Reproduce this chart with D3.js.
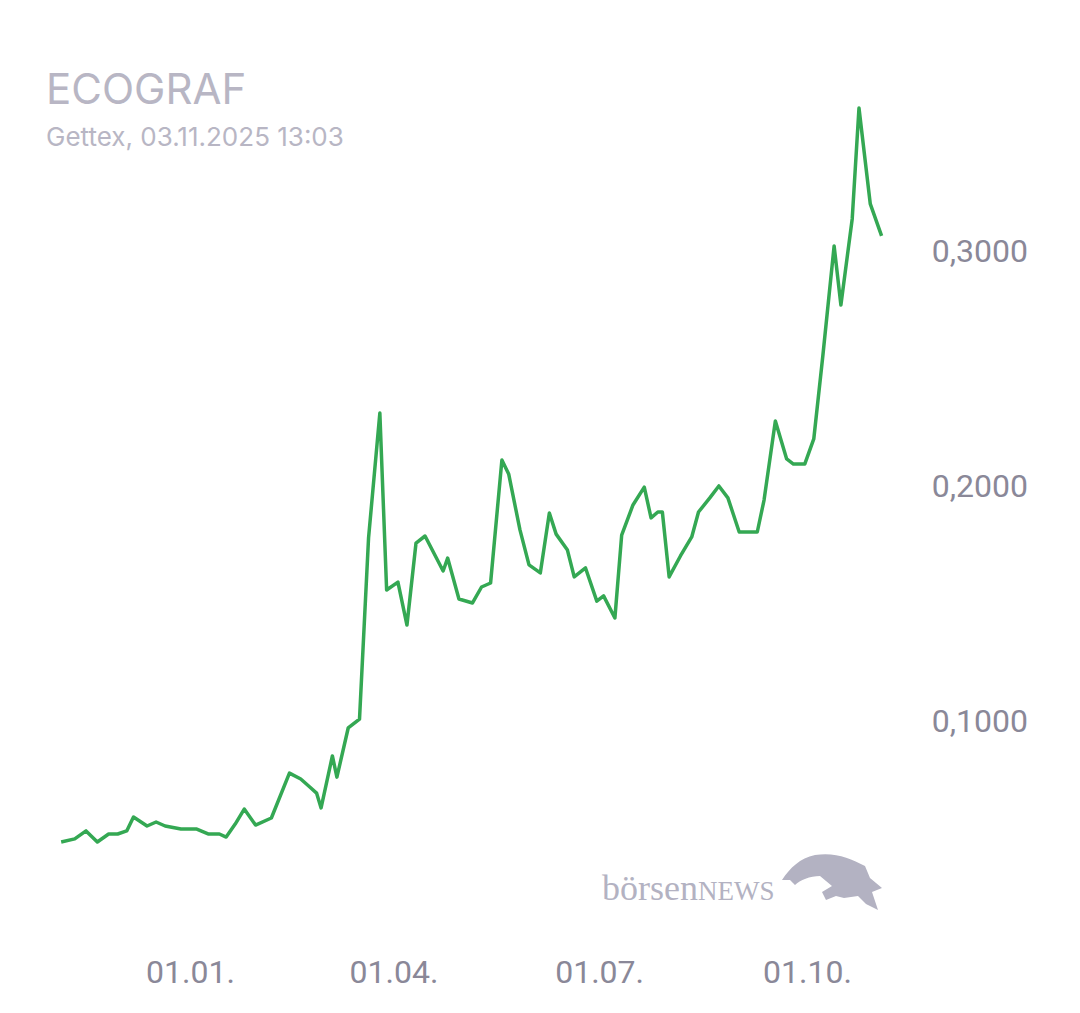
<!DOCTYPE html>
<html><head><meta charset="utf-8">
<script src="https://cdn.jsdelivr.net/npm/d3@7"></script>
<style>body{margin:0;background:#fff}</style></head>
<body><svg id="c" width="1080" height="1013"></svg>
<script>
const dates=["2024-11-05","2024-11-11","2024-11-16","2024-11-21","2024-11-26","2024-11-30","2024-12-04","2024-12-07","2024-12-13","2024-12-17","2024-12-21","2024-12-28","2025-01-04","2025-01-09","2025-01-14","2025-01-17","2025-01-21","2025-01-25","2025-01-30","2025-02-06","2025-02-14","2025-02-19","2025-02-23","2025-02-26","2025-02-28","2025-03-05","2025-03-07","2025-03-12","2025-03-17","2025-03-21","2025-03-26","2025-03-29","2025-04-03","2025-04-07","2025-04-11","2025-04-15","2025-04-23","2025-04-25","2025-04-30","2025-05-06","2025-05-10","2025-05-14","2025-05-19","2025-05-22","2025-05-27","2025-05-31","2025-06-05","2025-06-09","2025-06-12","2025-06-17","2025-06-20","2025-06-25","2025-06-30","2025-07-03","2025-07-08","2025-07-11","2025-07-16","2025-07-21","2025-07-24","2025-07-27","2025-07-29","2025-08-01","2025-08-06","2025-08-11","2025-08-14","2025-08-19","2025-08-23","2025-08-27","2025-09-01","2025-09-09","2025-09-12","2025-09-17","2025-09-22","2025-09-25","2025-09-30","2025-10-04","2025-10-08","2025-10-13","2025-10-16","2025-10-21","2025-10-24","2025-10-29","2025-11-03"];
const prices=[0.0481,0.0494,0.0528,0.0481,0.0515,0.0515,0.0528,0.0587,0.0549,0.0566,0.0549,0.0536,0.0536,0.0515,0.0515,0.0502,0.0557,0.0621,0.0553,0.0583,0.0774,0.0749,0.0715,0.0689,0.0626,0.0847,0.0757,0.0966,0.1004,0.1774,0.2306,0.1553,0.1587,0.1404,0.1753,0.1783,0.1634,0.1689,0.1515,0.1498,0.1566,0.1583,0.2106,0.2047,0.1809,0.1660,0.1626,0.1881,0.1791,0.1723,0.1609,0.1647,0.1506,0.1528,0.1434,0.1787,0.1915,0.1991,0.1860,0.1885,0.1885,0.1609,0.1698,0.1779,0.1885,0.1945,0.1996,0.1945,0.1800,0.1800,0.1936,0.2272,0.2111,0.2089,0.2089,0.2196,0.2549,0.3017,0.2766,0.3132,0.3604,0.3196,0.3060];
const yTicks=[0.1,0.2,0.3];
const xTicks=["2025-01-01","2025-04-01","2025-07-01","2025-10-01"];
const title="ECOGRAF", subtitle="Gettex, 03.11.2025 13:03";

const svg=d3.select("#c");
const p=d3.timeParse("%Y-%m-%d");
const data=dates.map((d,i)=>({d:p(d),v:prices[i]}));
const x=d3.scaleTime().domain([p("2025-01-01"),p("2025-10-01")]).range([190,807]);
const y=d3.scaleLinear().domain([0,0.3]).range([955,250]);
const fmt=v=>d3.format(".4f")(v).replace(".",",");
const xf=d3.timeFormat("%d.%m.");

const ya=svg.append("g").attr("transform","translate(1028,0)")
 .call(d3.axisRight(y).tickValues(yTicks).tickFormat(fmt).tickSize(0));
ya.select(".domain").remove();
ya.selectAll("text").attr("x",0).attr("text-anchor","end").attr("dy","0.35em")
 .attr("font-family","Roboto").attr("font-size",32).attr("fill","#8a8898");

const xa=svg.append("g").attr("transform","translate(0,957)")
 .call(d3.axisBottom(x).tickValues(xTicks.map(p)).tickFormat(xf).tickSize(0));
xa.select(".domain").remove();
xa.selectAll("text").attr("dy","0.71em")
 .attr("font-family","Roboto").attr("font-size",32).attr("fill","#8a8898");

svg.append("path").datum(data).attr("fill","none").attr("stroke","#34a853")
 .attr("stroke-width",3.5).attr("stroke-linejoin","round")
 .attr("d",d3.line().x(d=>x(d.d)).y(d=>y(d.v)));

svg.append("text").attr("x",46).attr("y",104).text(title)
 .attr("font-family","Inter").attr("font-size",42).attr("fill","#b8b6c4");
svg.append("text").attr("x",46).attr("y",146).text(subtitle)
 .attr("font-family","Inter").attr("font-size",26).attr("fill","#b8b6c4");

// logo
const lg=svg.append("g").attr("fill","#b3b2c2");
lg.append("text").attr("x",602).attr("y",900).attr("font-family","Liberation Serif")
 .attr("font-size",36).text("börsen").append("tspan").attr("font-size",27).text("NEWS");
lg.append("path").attr("d","M782,880 C790,868 800,858 815,855 C835,852 850,858 865,866 L870,878 L882,888 L872,892 L878,910 L866,904 L858,896 L844,898 L836,896 L826,900 L822,892 L832,886 L820,876 C810,876 800,880 795,885 L790,880 Z");
</script></body></html>
